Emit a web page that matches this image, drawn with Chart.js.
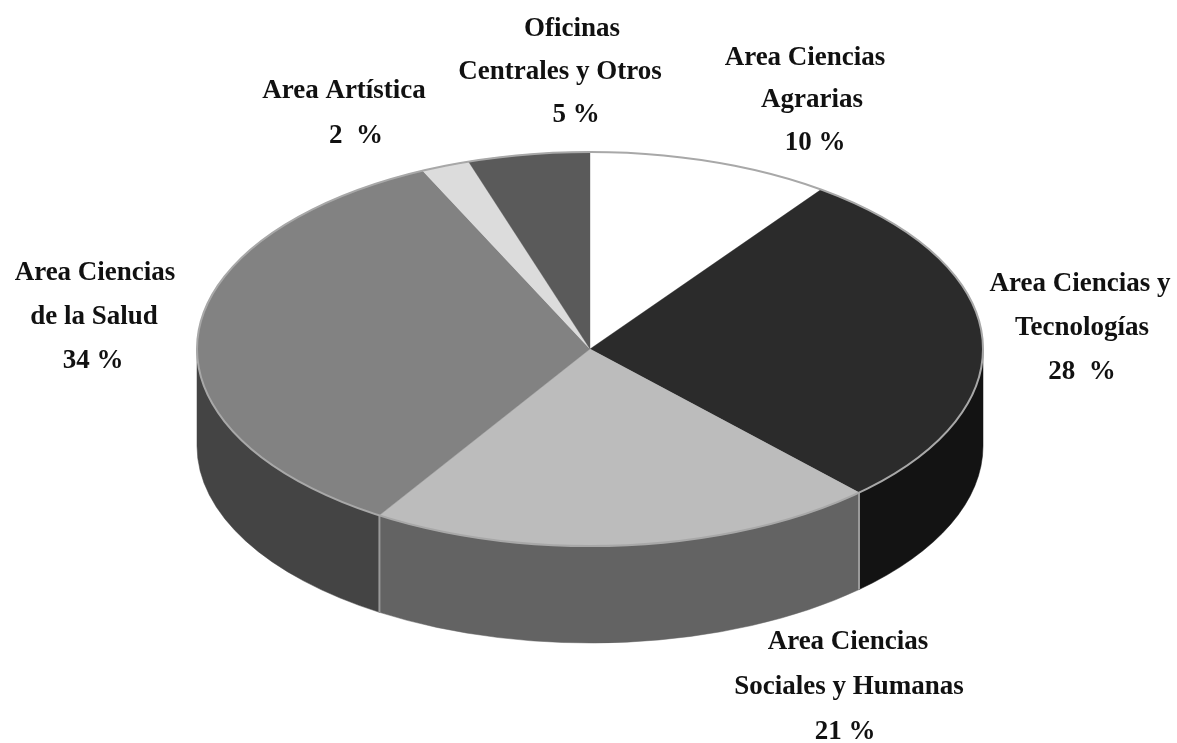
<!DOCTYPE html>
<html><head><meta charset="utf-8">
<style>html,body{margin:0;padding:0;background:#fff}#w{width:1177px;height:743px}canvas{display:block;filter:blur(0.5px)}</style>
<script src="https://cdn.jsdelivr.net/npm/chart.js@4"></script>
</head><body><div id="w"><canvas id="c" width="1177" height="743"></canvas></div>
<script>
const categories = ["Area Ciencias Agrarias","Area Ciencias y Tecnologías","Area Ciencias Sociales y Humanas","Area Ciencias de la Salud","Area Artística","Oficinas Centrales y Otros"];
const values = [10,28,21,34,2,5];
const topColors = ["#ffffff","#2b2b2b","#bcbcbc","#828282","#dcdcdc","#5a5a5a"];
const sideColors = ["#e0e0e0","#131313","#636363","#444444","#aaaaaa","#3c3c3c"];
const labelLines = [
 ["Area Ciencias","Agrarias","10 %"],
 ["Area Ciencias y","Tecnologías","28  %"],
 ["Area Ciencias","Sociales y Humanas","21 %"],
 ["Area Ciencias","de la Salud","34 %"],
 ["Area Artística","2  %"],
 ["Oficinas","Centrales y Otros","5 %"]
];
const labelAnchors = [
 [[805,58],[812,100],[815,143]],
 [[1080,284],[1082,328],[1082,372]],
 [[848,642],[849,687],[845,732]],
 [[95,273],[94,317],[93,361]],
 [[344,91],[356,136]],
 [[572,29],[560,72],[576,115]]
];
const RADIUS = 393, SQUASH = 197/393, DEPTH = 97;

const pie3d = {
  id:'pie3d',
  beforeDatasetsDraw(chart){
    const ctx = chart.ctx, arcs = chart.getDatasetMeta(0).data;
    const {x:cx,y:cy,outerRadius:r} = arcs[0].getProps(['x','y','outerRadius'],true);
    const ry = r*SQUASH;
    arcs.forEach((a,i)=>{
      const TAU=Math.PI*2;
      let s=a.startAngle, e=a.endAngle;
      while(s<0){s+=TAU;e+=TAU;}
      while(s>=TAU){s-=TAU;e-=TAU;}
      const ranges=[[s,e],[s-TAU,e-TAU]];
      ranges.forEach(([p,q])=>{
        const s0=Math.max(p,0), e0=Math.min(q,Math.PI);
        if(e0<=s0) return;
        ctx.beginPath();
        ctx.ellipse(cx,cy,r,ry,0,s0,e0);
        ctx.ellipse(cx,cy+DEPTH,r,ry,0,e0,s0,true);
        ctx.closePath();
        ctx.fillStyle=sideColors[i];
        ctx.strokeStyle=sideColors[i];
        ctx.lineWidth=0.5;
        ctx.fill();ctx.stroke();
        if(s0>0){
          ctx.beginPath();
          const sx=cx+r*Math.cos(s0), sy=cy+ry*Math.sin(s0);
          ctx.moveTo(sx,sy);ctx.lineTo(sx,sy+DEPTH);
          ctx.strokeStyle="#9a9a9a";ctx.lineWidth=2;ctx.stroke();
        }
      });
    });
    ctx.save();
    ctx.translate(cx,cy);ctx.scale(1,SQUASH);ctx.translate(-cx,-cy);
  },
  afterDatasetsDraw(chart){
    const ctx = chart.ctx;
    ctx.restore();
    const a0 = chart.getDatasetMeta(0).data[0];
    const {x:cx,y:cy,outerRadius:r} = a0.getProps(['x','y','outerRadius'],true);
    ctx.beginPath();
    ctx.ellipse(cx,cy,r,r*SQUASH,0,0,Math.PI*2);
    ctx.strokeStyle="#a8a8a8";ctx.lineWidth=2;ctx.stroke();
    ctx.fillStyle="#111";
    ctx.font='bold 27px "Liberation Serif"';
    ctx.textAlign="center";ctx.textBaseline="middle";
    ctx.save();
    ctx.beginPath();ctx.rect(0,0,1171,743);ctx.clip();
    labelLines.forEach((lines,i)=>lines.forEach((t,j)=>{
      const [x,y]=labelAnchors[i][j];
      ctx.fillText(t,x,y);
    }));
    ctx.restore();
  }
};

new Chart(document.getElementById('c'),{
  type:'pie',
  data:{labels:categories,datasets:[{data:values,backgroundColor:topColors,borderWidth:0.5,borderColor:topColors}]},
  options:{
    responsive:false,animation:false,
    radius:RADIUS,
    layout:{padding:{left:3,right:0,top:0,bottom:45}},
    plugins:{legend:{display:false},tooltip:{enabled:false}}
  },
  plugins:[pie3d]
});
</script></body></html>
